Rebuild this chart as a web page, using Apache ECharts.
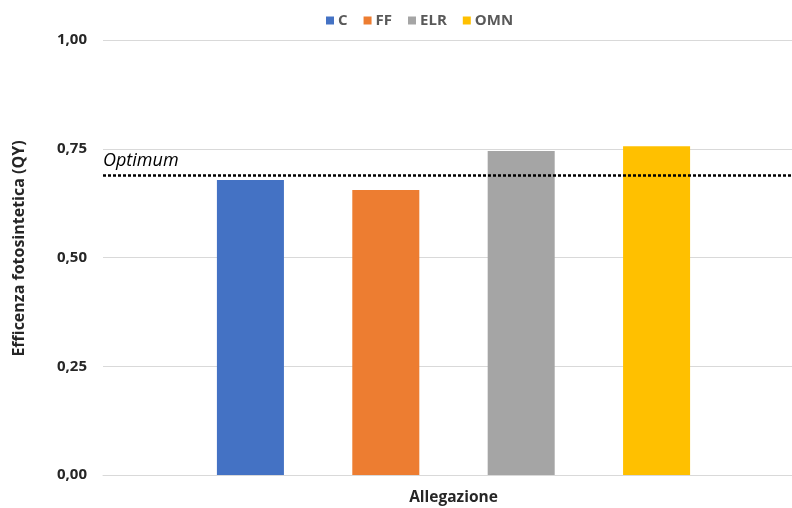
<!DOCTYPE html>
<html>
<head>
<meta charset="utf-8">
<script src="https://cdn.jsdelivr.net/npm/echarts@6/dist/echarts.min.js"></script>
<style>html,body{margin:0;padding:0;background:#fff;}#c{width:792px;height:508px;}</style>
</head>
<body>
<div id="c"></div>
<script>
const categories = ['Allegazione'];
const seriesNames = ['C', 'FF', 'ELR', 'OMN'];
const seriesValues = [[0.678], [0.655], [0.745], [0.756]];
const colors = ['#4472C4', '#ED7D31', '#A5A5A5', '#FFC000'];
const optimum = 0.685;
const yTicks = { min: 0, max: 1, interval: 0.25 };

const chart = echarts.init(document.getElementById('c'));
const series = seriesNames.map((name, i) => {
  const s = {
    name: name,
    type: 'bar',
    data: seriesValues[i],
    itemStyle: { color: colors[i] },
    barGap: '102%',
    barCategoryGap: '32.5%'
  };
  if (i === 0) {
    s.markLine = {
      silent: true,
      symbol: ['none', 'none'],
      data: [{ yAxis: optimum }],
      lineStyle: { color: '#000', type: [3, 2], width: 2.5 },
      label: {
        show: true,
        position: 'insideStartTop',
        formatter: 'Optimum',
        fontStyle: 'italic',
        fontSize: 18,
        color: '#000',
        fontFamily: 'Open Sans',
        distance: [0, 5]
      }
    };
  }
  return s;
});

chart.setOption({
  animation: false,
  textStyle: { fontFamily: 'Open Sans' },
  legend: {
    top: 8,
    left: 321,
    itemWidth: 8,
    itemHeight: 8,
    itemGap: 16,
    icon: 'rect',
    textStyle: { fontSize: 15, fontWeight: 'bold', color: '#595959', padding: [0, 0, 0, -1] },
    data: seriesNames
  },
  grid: { left: 103, right: -12, top: 40, bottom: 33, outerBoundsMode: 'none', containLabel: false },
  xAxis: {
    type: 'category',
    data: categories,
    axisLine: { lineStyle: { color: '#D9D9D9' } },
    axisTick: { show: false },
    axisLabel: { fontSize: 15.5, fontWeight: 'bold', color: '#262626', margin: 15 }
  },
  yAxis: {
    type: 'value',
    min: yTicks.min,
    max: yTicks.max,
    interval: yTicks.interval,
    name: 'Efficenza fotosintetica (QY)',
    nameLocation: 'middle',
    nameGap: 76,
    nameTextStyle: { fontSize: 16, fontWeight: 'bold', color: '#262626', padding: [0, 0, 0, 18] },
    axisLabel: {
      fontSize: 15, fontWeight: 'bold', color: '#262626', margin: 16,
      formatter: v => v.toFixed(2).replace('.', ',')
    },
    splitLine: { lineStyle: { color: '#D9D9D9' } }
  },
  series: series
});
</script>
</body>
</html>
